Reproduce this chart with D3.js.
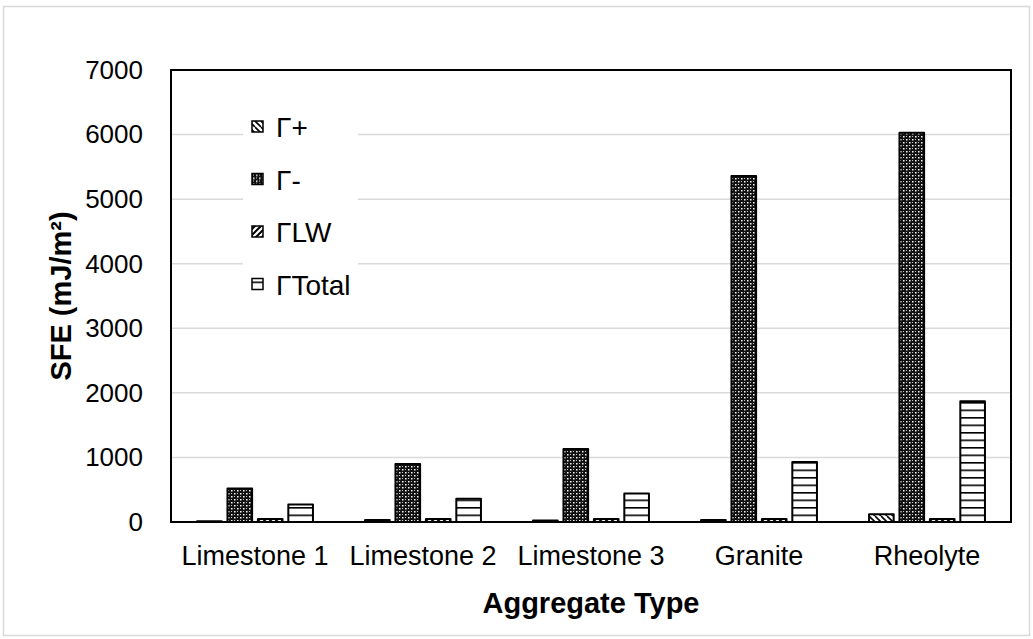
<!DOCTYPE html>
<html>
<head>
<meta charset="utf-8">
<script src="https://cdn.jsdelivr.net/npm/d3@7"></script>
<style>
  body { margin: 0; background: #fff; }
  svg { display: block; }
</style>
</head>
<body>
<svg id="chart" width="1033" height="639"></svg>
<script>
const fontFamily = "Arial, 'Liberation Sans', sans-serif";

// Aggregate types on the x axis
const categories = ["Limestone 1", "Limestone 2", "Limestone 3", "Granite", "Rheolyte"];
// Series names, in legend order
const seriesNames = ["Γ+", "Γ-", "ΓLW", "ΓTotal"];
// SFE values (mJ/m²), one array per series
const gammaPlus  = [10, 30, 25, 30, 120];
const gammaMinus = [520, 900, 1130, 5360, 6030];
const gammaLW    = [45, 45, 45, 45, 45];
const gammaTotal = [270, 360, 440, 930, 1870];
const yTicks = [0, 1000, 2000, 3000, 4000, 5000, 6000, 7000];

const seriesValues = [gammaPlus, gammaMinus, gammaLW, gammaTotal];
const patternIds = ["pat-plus", "pat-minus", "pat-lw", "pat-total"];

const width = 1033, height = 639;
const margin = {top: 70, right: 22, bottom: 117, left: 171};
const svg = d3.select("#chart");

// Outer chart frame
svg.append("rect")
  .attr("x", 3.5).attr("y", 6.5)
  .attr("width", 1026).attr("height", 629)
  .attr("fill", "#fff")
  .attr("stroke", "#d9d9d9")
  .attr("stroke-width", 1.5);

// Fill patterns
const defs = svg.append("defs");

// Γ+ : diagonal strokes
const p1 = defs.append("pattern").attr("id", "pat-plus")
  .attr("patternUnits", "userSpaceOnUse").attr("width", 6).attr("height", 6);
p1.append("rect").attr("width", 6).attr("height", 6).attr("fill", "#fff");
p1.append("path").attr("d", "M0,0 L6,6 M-3,3 L0,6 M3,-3 L6,0")
  .attr("stroke", "#000").attr("stroke-width", 1.6);

// Γ- : dense dark lattice with light dots
const p2 = defs.append("pattern").attr("id", "pat-minus")
  .attr("patternUnits", "userSpaceOnUse").attr("width", 6).attr("height", 6);
p2.append("rect").attr("width", 6).attr("height", 6).attr("fill", "#111");
p2.append("rect").attr("x", 1).attr("y", 1).attr("width", 1.5).attr("height", 1.5).attr("fill", "#fff");
p2.append("rect").attr("x", 4).attr("y", 4).attr("width", 1.5).attr("height", 1.5).attr("fill", "#fff");
p2.append("rect").attr("x", 4).attr("y", 1).attr("width", 1).attr("height", 1).attr("fill", "#ccc");
p2.append("rect").attr("x", 1).attr("y", 4).attr("width", 1).attr("height", 1).attr("fill", "#ccc");

// ΓLW : wide upward diagonal
const p3 = defs.append("pattern").attr("id", "pat-lw")
  .attr("patternUnits", "userSpaceOnUse").attr("width", 6).attr("height", 6);
p3.append("rect").attr("width", 6).attr("height", 6).attr("fill", "#fff");
p3.append("path").attr("d", "M0,6 L6,0 M-3,3 L3,-3 M3,9 L9,3")
  .attr("stroke", "#000").attr("stroke-width", 2);

// ΓTotal : horizontal lines
const p4 = defs.append("pattern").attr("id", "pat-total")
  .attr("patternUnits", "userSpaceOnUse").attr("width", 8).attr("height", 7.5)
  .attr("y", 522);
p4.append("rect").attr("width", 8).attr("height", 7.5).attr("fill", "#fff");
p4.append("rect").attr("y", 0).attr("width", 8).attr("height", 1.6).attr("fill", "#000");

// Scales
const x0 = d3.scaleBand()
  .domain(categories)
  .range([margin.left, width - margin.right])
  .paddingInner(0.31)
  .paddingOuter(0.155);

const x1 = d3.scaleBand()
  .domain(seriesNames)
  .range([0, x0.bandwidth()])
  .paddingInner(0.19);

const y = d3.scaleLinear()
  .domain([0, 7000])
  .range([height - margin.bottom, margin.top]);

// Gridlines
svg.append("g")
  .selectAll("line")
  .data(yTicks.slice(1, -1))
  .join("line")
  .attr("x1", margin.left).attr("x2", width - margin.right)
  .attr("y1", d => y(d)).attr("y2", d => y(d))
  .attr("stroke", "#d9d9d9")
  .attr("stroke-width", 1.5);

// Bars
const rows = categories.map((c, i) => ({cat: c, vals: seriesNames.map((s, j) => ({s, j, v: seriesValues[j][i]}))}));
svg.append("g")
  .selectAll("g")
  .data(rows)
  .join("g")
  .attr("transform", d => `translate(${x0(d.cat)},0)`)
  .selectAll("rect")
  .data(d => d.vals)
  .join("rect")
  .attr("x", d => x1(d.s))
  .attr("y", d => y(d.v))
  .attr("width", x1.bandwidth())
  .attr("height", d => y(0) - y(d.v))
  .attr("fill", d => `url(#${patternIds[d.j]})`)
  .attr("stroke", "#000")
  .attr("stroke-width", 2)
  .attr("stroke-linejoin", "round");

// Plot border
svg.append("rect")
  .attr("x", margin.left).attr("y", margin.top)
  .attr("width", width - margin.left - margin.right)
  .attr("height", height - margin.top - margin.bottom)
  .attr("fill", "none")
  .attr("stroke", "#000")
  .attr("stroke-width", 2);

// Y axis tick labels
const yAxis = d3.axisLeft(y).tickValues(yTicks).tickFormat(d3.format("d")).tickSize(0).tickPadding(28);
svg.append("g")
  .attr("transform", `translate(${margin.left},0)`)
  .call(yAxis)
  .call(g => g.select(".domain").remove())
  .selectAll("text")
  .attr("font-family", fontFamily)
  .attr("font-size", "26px")
  .attr("fill", "#000");

// X axis category labels
const xAxis = d3.axisBottom(x0).tickSize(0).tickPadding(24);
svg.append("g")
  .attr("transform", `translate(0,${height - margin.bottom})`)
  .call(xAxis)
  .call(g => g.select(".domain").remove())
  .selectAll("text")
  .attr("font-family", fontFamily)
  .attr("font-size", "27px")
  .attr("fill", "#000");

// Axis titles
svg.append("text")
  .attr("x", (margin.left + width - margin.right) / 2)
  .attr("y", 613)
  .attr("text-anchor", "middle")
  .attr("font-family", fontFamily)
  .attr("font-size", "29px")
  .attr("font-weight", "700")
  .text("Aggregate Type");

svg.append("text")
  .attr("transform", `translate(71,${(margin.top + height - margin.bottom) / 2}) rotate(-90)`)
  .attr("text-anchor", "middle")
  .attr("font-family", fontFamily)
  .attr("font-size", "29px")
  .attr("font-weight", "700")
  .text("SFE (mJ/m²)");

// Legend
const legend = svg.append("g").attr("transform", "translate(243,103)");
legend.append("rect")
  .attr("width", 115).attr("height", 205)
  .attr("fill", "#fff");

const item = legend.selectAll("g.item")
  .data(seriesNames)
  .join("g")
  .attr("class", "item")
  .attr("transform", (d, i) => `translate(0,${24 + i * 52.5})`);

item.append("rect")
  .attr("x", 9).attr("y", -6)
  .attr("width", 11).attr("height", 11)
  .attr("fill", (d, i) => `url(#${patternIds[i]})`)
  .attr("stroke", "#000")
  .attr("stroke-width", 1.5);

item.append("text")
  .attr("x", 33).attr("y", 10)
  .attr("font-family", fontFamily)
  .attr("font-size", "28px")
  .attr("fill", "#000")
  .text(d => d);
</script>
</body>
</html>
